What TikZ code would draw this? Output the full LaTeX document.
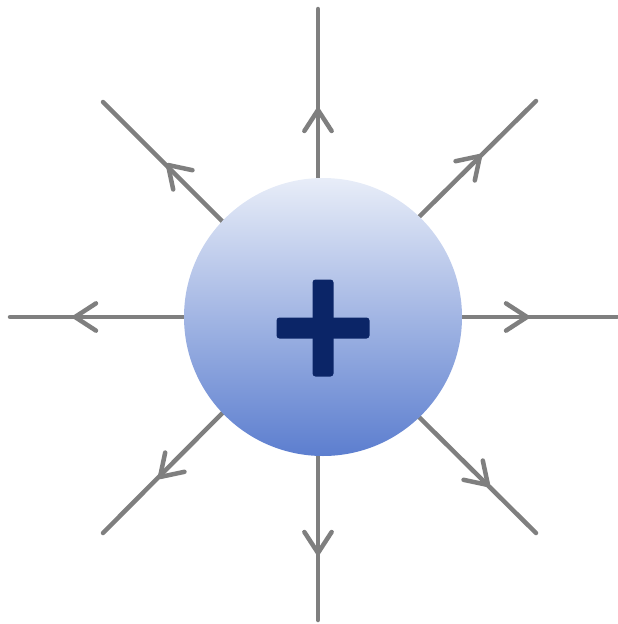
\documentclass[tikz,border=0pt]{standalone}
\usetikzlibrary{calc}
\definecolor{linegray}{HTML}{7F7F7F}
\definecolor{plusnavy}{HTML}{0B2567}
\definecolor{balltop}{HTML}{E8EDF8}
\definecolor{ballmid}{HTML}{AFC1E8}
\definecolor{ballbot}{HTML}{5C7ECF}
\tikzset{
  fieldline/.style={draw=linegray, line width=4.5pt, line cap=round, line join=round},
  ball/.style={circle, inner sep=0pt, minimum size=278pt, shading=axis,
    top color=balltop, middle color=ballmid, bottom color=ballbot},
  plusbar/.style={fill=plusnavy, rounded corners=3pt, inner sep=0pt}
}
\newcommand\fieldchev[2]{\draw[fieldline] ([shift={(#2+33:25)}]#1) -- (#1) -- ([shift={(#2-33:25)}]#1);}
\begin{document}
\begin{tikzpicture}[x=1pt,y=-1pt]
\useasboundingbox (0,0) rectangle (618,624);
\coordinate (c) at (318,317);
\coordinate (eT) at (318,9);
\coordinate (eB) at (318,620);
\coordinate (eL) at (10,317);
\coordinate (eR) at (617,317);
\coordinate (eUL) at (103,102);
\coordinate (eUR) at (536,101);
\coordinate (eLL) at (103,533);
\coordinate (eLR) at (536,533);
\foreach \e in {eT,eB,eL,eR,eUL,eUR,eLL,eLR} \draw[fieldline] (c) -- (\e);
\fieldchev{318,110}{90}
\fieldchev{318,553}{270}
\fieldchev{75,317}{0}
\fieldchev{527,317}{180}
\fieldchev{168,165}{45}
\fieldchev{480,156}{135}
\fieldchev{160,477}{-45}
\fieldchev{488,485}{225}
\node[ball] (q) at (323,317) {};
\node[plusbar, minimum width=93pt, minimum height=21pt] (plush) at (323,328) {};
\node[plusbar, minimum width=21pt, minimum height=97pt] (plusv) at (323,328) {};
\end{tikzpicture}
\end{document}
